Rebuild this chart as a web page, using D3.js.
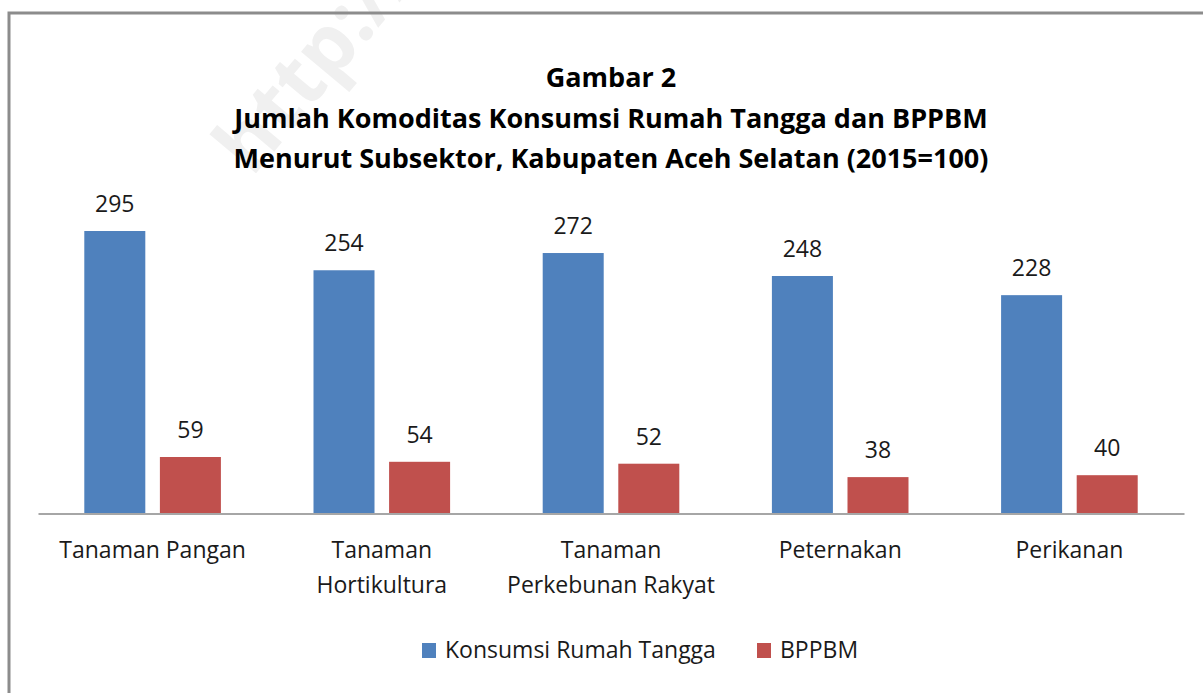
<!DOCTYPE html>
<html>
<head>
<meta charset="utf-8">
<script src="https://cdn.jsdelivr.net/npm/d3@7"></script>
<style>
  html, body { margin: 0; padding: 0; background: #fff; }
  svg { display: block; font-family: "Open Sans", sans-serif; }
</style>
</head>
<body>
<svg id="chart" width="1203" height="693"></svg>
<script>
const categories = ["Tanaman Pangan", "Tanaman Hortikultura", "Tanaman Perkebunan Rakyat", "Peternakan", "Perikanan"]
const categoryLines = [["Tanaman Pangan"], ["Tanaman", "Hortikultura"], ["Tanaman", "Perkebunan Rakyat"], ["Peternakan"], ["Perikanan"]]
const seriesNames = ["Konsumsi Rumah Tangga", "BPPBM"]
const konsumsi = [295, 254, 272, 248, 228]
const bppbm = [59, 54, 52, 38, 40]
const titleLines = ["Gambar 2", "Jumlah Komoditas Konsumsi Rumah Tangga dan BPPBM", "Menurut Subsektor, Kabupaten Aceh Selatan (2015=100)"]

const colors = ["#4f81bd", "#c0504d"]
const svg = d3.select("#chart")

// faint watermark behind the chart
svg.append("text")
  .attr("transform", "translate(252,178) rotate(-50)")
  .attr("font-size", 80)
  .attr("font-weight", "bold")
  .attr("fill", "#f0f0f0")
  .text("http://")

// frame (runs off the right and bottom edge like the source)
svg.append("rect")
  .attr("x", 9).attr("y", 13)
  .attr("width", 1300).attr("height", 800)
  .attr("fill", "none")
  .attr("stroke", "#8c8c8c")
  .attr("stroke-width", 3)

svg.append("g").selectAll("text")
  .data(titleLines)
  .join("text")
  .attr("x", 611)
  .attr("y", (d, i) => 87 + i * 40.5)
  .attr("text-anchor", "middle")
  .attr("font-size", 27)
  .attr("font-weight", "bold")
  .attr("fill", "#000")
  .text((d) => d)

const data = categories.map((c, i) => ({ category: c, values: [konsumsi[i], bppbm[i]] }))

const baseline = 513.5
const x0 = d3.scaleBand().domain(categories).range([38, 1184]).paddingInner(0.404).paddingOuter(0.202)
const x1 = d3.scaleBand().domain(seriesNames).range([0, x0.bandwidth()]).paddingInner(0.193)
const y = d3.scaleLinear().domain([0, d3.max(konsumsi)]).range([baseline, 231])

const groups = svg.append("g").selectAll("g")
  .data(data)
  .join("g")
  .attr("transform", (d) => `translate(${x0(d.category)},0)`)

groups.selectAll("rect")
  .data((d) => d.values.map((v, i) => ({ name: seriesNames[i], value: v, idx: i })))
  .join("rect")
  .attr("x", (d) => x1(d.name))
  .attr("y", (d) => y(d.value))
  .attr("width", x1.bandwidth())
  .attr("height", (d) => baseline - y(d.value))
  .attr("fill", (d) => colors[d.idx])

groups.selectAll("text")
  .data((d) => d.values.map((v, i) => ({ name: seriesNames[i], value: v })))
  .join("text")
  .attr("x", (d) => x1(d.name) + x1.bandwidth() / 2)
  .attr("y", (d) => y(d.value) - 19)
  .attr("text-anchor", "middle")
  .attr("font-size", 23)
  .attr("fill", "#1a1a1a")
  .text((d) => d.value)

// category axis
const axis = svg.append("g")
  .attr("transform", `translate(0,${baseline})`)
  .call(d3.axisBottom(x0).tickSize(0).tickSizeOuter(0).tickFormat(""))
axis.select(".domain").attr("stroke", "#a6a6a6").attr("stroke-width", 2)

svg.append("g").selectAll("text")
  .data(categories)
  .join("text")
  .attr("x", (d) => x0(d) + x0.bandwidth() / 2)
  .attr("y", 558)
  .attr("text-anchor", "middle")
  .attr("font-size", 23)
  .attr("fill", "#1a1a1a")
  .each(function (d, i) {
    d3.select(this).selectAll("tspan")
      .data(categoryLines[i])
      .join("tspan")
      .attr("x", x0(d) + x0.bandwidth() / 2)
      .attr("dy", (t, j) => (j === 0 ? 0 : 35))
      .text((t) => t)
  })

// legend
const legend = svg.append("g").attr("transform", "translate(422,643)")
const legendOffsets = [0, 335]
seriesNames.forEach((name, i) => {
  const item = legend.append("g").attr("transform", `translate(${legendOffsets[i]},0)`)
  item.append("rect").attr("width", 14).attr("height", 15).attr("fill", colors[i])
  item.append("text")
    .attr("x", 23)
    .attr("y", 15)
    .attr("font-size", 23)
    .attr("fill", "#1a1a1a")
    .text(name)
})
</script>
</body>
</html>
